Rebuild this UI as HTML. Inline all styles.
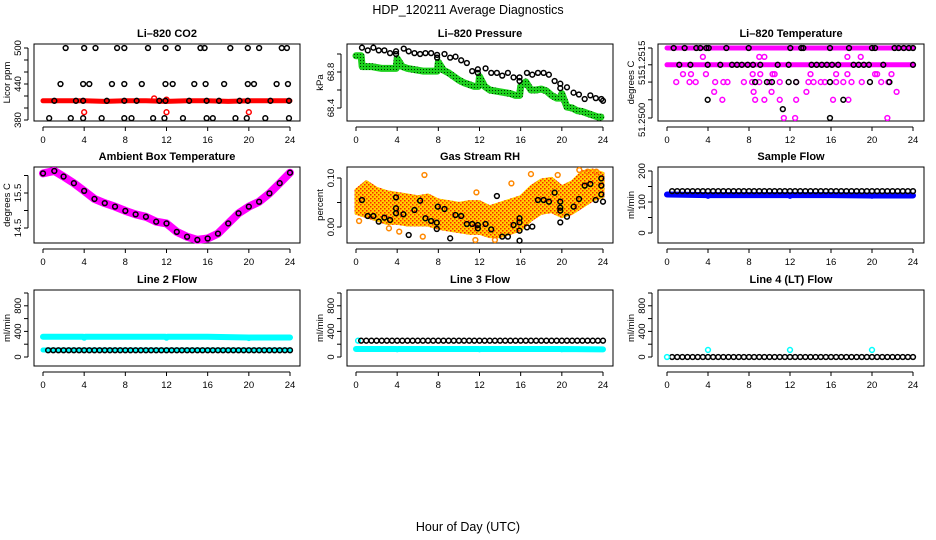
<!DOCTYPE html>
<html><head><meta charset="utf-8">
<style>
body{margin:0;background:#fff;}
svg{display:block;font-family:"Liberation Sans",sans-serif;}
</style></head>
<body>
<svg id="chart" width="936" height="540" viewBox="0 0 936 540" xmlns="http://www.w3.org/2000/svg">
<defs>
<pattern id="rhpat" width="4" height="4" patternUnits="userSpaceOnUse">
<rect width="4" height="4" fill="#ffd000"/><rect width="1.5" height="1.5" fill="#ff2200"/><rect x="2" y="2" width="1.5" height="1.5" fill="#ff2200"/>
</pattern>
<pattern id="grpat" width="3" height="3" patternUnits="userSpaceOnUse">
<rect width="3" height="3" fill="#1ed01e"/><rect width="1" height="1" fill="#003300"/>
</pattern>
</defs>
<text x="468" y="14" text-anchor="middle" font-size="12.5">HDP_120211  Average Diagnostics</text>
<text x="468" y="531" text-anchor="middle" font-size="12.5">Hour of Day (UTC)</text>
</svg>
<script>
// ---------- data ----------
var xTicks=[0,4,8,12,16,20,24];
// CO2
var co2BandT=[0,2,4,6,8,10,12,14,16,18,20,22,24];
var co2BandV=[412,412,412,411,412,412,411,412,412,411,412,412,412];
var co2RedOutT=[4,12,20,10.8,12];
var co2RedOutV=[393,393,393,416,414];
var co2BlkT=[2.2,4.0,5.1,7.2,7.9,10.2,11.9,13.1,15.3,15.7,18.2,19.9,21.0,23.2,23.7, 1.7,3.9,4.5,6.7,7.9,9.6,11.9,12.6,14.7,15.8,17.6,19.9,20.5,22.7,23.8, 1.1,3.2,3.9,6.2,7.9,9.1,11.3,11.9,14.2,15.9,17.1,19.1,19.9,22.1,23.9, 0.6,2.7,3.9,5.7,7.9,8.6,10.7,11.8,13.6,15.9,16.5,18.7,19.8,21.6,23.9];
var co2BlkV=[500,500,500,500,500,500,500,500,500,500,500,500,500,500,500, 440,440,440,440,440,440,440,440,440,440,440,440,440,440,440, 412,412,412,412,412,412,412,412,412,412,412,412,412,412,412, 383,383,383,383,383,383,383,383,383,383,383,383,383,383,383];
// Pressure
var prGrT=[0,0.5,0.6,1,1.5,2,2.5,3,3.5,3.9,4,4.5,5,5.5,6,6.5,7,7.5,7.9,8,8.5,9,9.5,10,10.5,11,11.5,11.9,12,12.5,13,13.5,14,14.5,15,15.5,15.9,16,16.5,17,17.5,18,18.5,19,19.5,19.9,20,20.5,21,21.5,22,22.5,23,23.5,23.8];
var prGrV=[68.98,68.98,68.86,68.86,68.86,68.85,68.84,68.84,68.84,68.84,68.95,68.86,68.84,68.83,68.82,68.81,68.81,68.81,68.81,68.91,68.82,68.79,68.75,68.71,68.68,68.66,68.64,68.64,68.75,68.64,68.60,68.59,68.58,68.57,68.56,68.54,68.54,68.64,68.69,68.60,68.60,68.61,68.59,68.54,68.51,68.51,68.56,68.41,68.40,68.37,68.36,68.34,68.32,68.30,68.30];
var prBkT=[0.58,1.14,1.69,2.21,2.76,3.31,3.89,4.64,5.12,5.68,6.23,6.75,7.3,7.88,8.6,9.15,9.67,10.22,10.77,11.29,11.84,12.59,13.14,13.69,14.21,14.76,15.31,15.89,16.61,17.13,17.68,18.23,18.74,19.3,19.85,20.5,21.14,21.66,22.22,22.77,23.3,23.84,24.0,3.89,7.88,11.84,15.89,19.85];
var prBkV=[69.07,69.04,69.07,69.04,69.04,69.01,69.03,69.06,69.03,69.01,69.0,69.01,69.01,68.99,69.0,68.96,68.97,68.93,68.9,68.81,68.83,68.84,68.79,68.79,68.76,68.79,68.74,68.74,68.79,68.77,68.79,68.79,68.77,68.7,68.67,68.63,68.57,68.55,68.5,68.54,68.51,68.5,68.48,69.0,68.96,68.79,68.7,68.62];
// Li-820 temperature
var ltBandT=[0,24];
var ltBandHi=[51.2515,51.2515];
var ltBandLo=[51.25114,51.25114];
var ltMagT=[3.5,9.0,9.5,17.6,18.9, 1.56,2.34,3.8,8.36,9.1,10.3,10.5,14,16.5,17.6,20.3,20.5,21.9, 0.9,2.2,2.8,4.7,5.5,5.9,7.5,8.3,9.0,10.0,11.0,12.6,13.8,14.3,15.0,15.4,16.5,17.2,18.0,19.0,20.9,21.6, 4.6,8.45,10.2,13.6,22.4, 5.4,8.6,9.5,11.0,12.6,16.2,17.7, 11.4,12.5,21.5];
var ltMagV=[51.25131,51.25131,51.25131,51.25131,51.25131, 51.25094,51.25094,51.25094,51.25094,51.25094,51.25094,51.25094,51.25094,51.25094,51.25094,51.25094,51.25094,51.25094, 51.25077,51.25077,51.25077,51.25077,51.25077,51.25077,51.25077,51.25077,51.25077,51.25077,51.25077,51.25077,51.25077,51.25077,51.25077,51.25077,51.25077,51.25077,51.25077,51.25077,51.25077,51.25077, 51.25056,51.25056,51.25056,51.25056,51.25056, 51.25039,51.25039,51.25039,51.25039,51.25039,51.25039,51.25039, 51.2500,51.2500,51.2500];
var ltBkT=[0.65,1.72,2.86,3.25,3.84,4.07,5.79,7.97,12.03,13.1,13.3,15.9,17.76,20,20.3,22.2,22.6,23.1,23.6,24, 1.2,2.28,3.97,5.2,6.34,6.83,7.3,7.87,8.39,9.1,10.8,11.87,14.1,14.6,15.1,15.6,16.1,16.7,18.2,18.7,19.2,19.7,21.1,24, 8.6,9.75,10.24,11.87,12.6,15.9,19.8,21.7, 3.97,17.2, 11.3, 15.9];
var ltBkV=[51.2515,51.2515,51.2515,51.2515,51.2515,51.2515,51.2515,51.2515,51.2515,51.2515,51.2515,51.2515,51.2515,51.2515,51.2515,51.2515,51.2515,51.2515,51.2515,51.2515, 51.25114,51.25114,51.25114,51.25114,51.25114,51.25114,51.25114,51.25114,51.25114,51.25114,51.25114,51.25114,51.25114,51.25114,51.25114,51.25114,51.25114,51.25114,51.25114,51.25114,51.25114,51.25114,51.25114,51.25114, 51.25077,51.25077,51.25077,51.25077,51.25077,51.25077,51.25077,51.25077, 51.25039,51.25039, 51.25019, 51.2500];
// Ambient
var ambT=[0,1.1,2,3,4,5,6,7,8,9,10,11,12,13,14,15,16,17,18,19,20,21,22,23,24];
var ambV=[16.06,16.13,15.97,15.78,15.56,15.33,15.21,15.11,14.99,14.89,14.82,14.68,14.63,14.39,14.25,14.16,14.20,14.34,14.63,14.92,15.11,15.25,15.49,15.78,16.08];
// RH
var rhEnvT=[0,1,2,3,4,5,6,7,8,9,10,11,12,13,14,15,16,17,18,19,20,21,22,23,24];
var rhUpper=[0.0755,0.0925,0.079,0.072,0.0687,0.0653,0.0619,0.0653,0.0551,0.0517,0.0483,0.0517,0.0517,0.0415,0.0483,0.0551,0.0619,0.0823,0.0959,0.0993,0.0823,0.0925,0.1129,0.1163,0.1095];
var rhLower=[0.028,0.021,0.0143,0.0075,0.0075,0.004,0.004,0.004,-0.0027,-0.0061,-0.0095,-0.0129,-0.0129,-0.0197,-0.0197,-0.0129,-0.0061,0.0143,0.028,0.0313,0.021,0.028,0.0415,0.0551,0.0619];
var rhOutT=[6.65,6.49,4.2,15.1,11.7,21.7,22.5,23.35,0.3,3.2,13.5,11.6,19.6,17];
var rhOutV=[0.1061,-0.0197,-0.0095,0.0891,0.0707,0.1163,0.1129,0.1129,0.0123,-0.0027,-0.0265,-0.0265,0.1061,0.108];
var rhBkT=[0.58,1.14,1.69,2.21,2.76,3.31,3.89,3.89,3.89,4.61,5.12,5.68,6.23,6.75,7.3,7.85,7.95,7.85,8.6,9.15,9.67,10.22,10.77,11.29,11.84,11.84,12.59,13.14,13.69,14.21,14.76,15.31,15.89,15.89,15.89,15.89,16.61,17.13,17.68,18.23,18.75,19.3,19.85,19.85,19.85,19.85,20.5,21.15,21.67,22.22,22.77,23.29,23.84,23.84,23.84,24];
var rhBkV=[0.0551,0.0224,0.0224,0.011,0.0191,0.0143,0.0605,0.0381,0.028,0.0259,-0.0163,0.0347,0.0537,0.0177,0.0123,0.0088,0.0415,-0.0041,0.0367,-0.0231,0.0245,0.0224,0.0061,0.0061,0.004,-0.0027,0.0061,-0.0048,0.0633,-0.0197,-0.0197,0.004,0.0177,0.0095,-0.0075,-0.0279,-0.0007,0.0007,0.0551,0.0551,0.0517,0.07,0.0517,0.0394,0.0333,0.0095,0.021,0.0415,0.0571,0.0844,0.0878,0.0551,0.0993,0.0844,0.0666,0.0517];
// Flows
var flowT=[0.5,1,1.5,2,2.5,3,3.5,4,4.5,5,5.5,6,6.5,7,7.5,8,8.5,9,9.5,10,10.5,11,11.5,12,12.5,13,13.5,14,14.5,15,15.5,16,16.5,17,17.5,18,18.5,19,19.5,20,20.5,21,21.5,22,22.5,23,23.5,24];
var bandT=[0,3.9,4,4.1,8,11.9,12,12.1,16,19.9,20,20.1,24];
var sampleBlue=[124,122,120,122,122,122,120,122,122,121,120,121,121];
var sampleBlack=135;
var line2Top=[317,317,300,317,317,317,300,317,317,305,295,305,305];
var line2Low=[110,110,110,110,110,110,110,110,110,110,110,110,110];
var line2Black=105;
var line3Low=[125,125,120,125,125,125,120,125,125,125,120,125,120];
var line3Black=255;
var line4Black=0;
var line4CyanT=[0,4,12,20];
var line4CyanV=[0,110,110,110];

// ---------- drawing ----------
var svg=document.getElementById('chart');
var NS='http://www.w3.org/2000/svg';
function mk(tag,attrs,parent){var e=document.createElementNS(NS,tag);for(var k in attrs)e.setAttribute(k,attrs[k]);(parent||svg).appendChild(e);return e;}
var cols=[{l:34,r:300,x0:43,x24:290},{l:347,r:613,x0:356,x24:603},{l:658,r:924,x0:667,x24:913}];
var rows=[{t:44,b:121},{t:167,b:243},{t:290,b:366}];
function panel(name,title,ci,ri,ylab,v1,y1,v2,y2,ticks,labels){
  var c=cols[ci],r=rows[ri];
  var g=mk('g',{});
  
  
  var p={g:g,sx:function(h){return c.x0+h*(c.x24-c.x0)/24;},sy:function(v){return y1+(v-v1)*(y2-y1)/(v2-v1);}};
  var t=mk('text',{x:(c.l+c.r)/2,y:r.t-7,'text-anchor':'middle','font-size':11,'font-weight':'bold'},g);t.textContent=title;
  
  
  var box=mk('rect',{x:c.l,y:r.t,width:c.r-c.l,height:r.b-r.t,fill:'none',stroke:'#000','stroke-width':1},g);
  
  
  var xa=mk('g',{},g);
  
  
  mk('line',{x1:p.sx(0),x2:p.sx(24),y1:r.b+6,y2:r.b+6,stroke:'#000'},xa);
  xTicks.forEach(function(h){var x=p.sx(h);mk('line',{x1:x,x2:x,y1:r.b+6,y2:r.b+10,stroke:'#000'},xa);
    var tt=mk('text',{x:x,y:r.b+22,'text-anchor':'middle','font-size':9.5},xa);tt.textContent=h;});
  var ya=mk('g',{},g);
  
  
  var ys=ticks.map(p.sy);
  mk('line',{x1:c.l-6,x2:c.l-6,y1:Math.min.apply(null,ys),y2:Math.max.apply(null,ys),stroke:'#000'},ya);
  ticks.forEach(function(v){var y=p.sy(v);mk('line',{x1:c.l-10,x2:c.l-6,y1:y,y2:y,stroke:'#000'},ya);});
  labels.forEach(function(L){var y=p.sy(L[0]);var tt=mk('text',{x:0,y:0,'text-anchor':'middle','font-size':9.5,transform:'translate('+(c.l-13)+','+y+') rotate(-90)'},ya);tt.textContent=L[1];});
  var yt=mk('text',{x:0,y:0,'text-anchor':'middle','font-size':9.5,transform:'translate('+(c.l-24)+','+((r.t+r.b)/2)+') rotate(-90)'},g);yt.textContent=ylab;
  
  
  return p;
}
function pts(p,T,V,color,name,rr,sw){
  var g=mk('g',{},p.g);
  
  
  for(var i=0;i<T.length;i++){var v=(typeof V==='number')?V:V[i];
    mk('circle',{cx:p.sx(T[i]),cy:p.sy(v),r:rr||2.4,fill:'none',stroke:color,'stroke-width':sw||1.5},g);}
}
function band(p,T,V,color,w,name){
  var d=T.map(function(t,i){return (i?'L':'M')+p.sx(t)+','+p.sy(V[i]);}).join(' ');
  var e=mk('path',{d:d,fill:'none',stroke:color,'stroke-width':w,'stroke-linejoin':'round','stroke-linecap':'round'},p.g);
  
  
}

// CO2
var p=panel('co2','Li\u2013820 CO2',0,0,'Licor ppm',500,48,380,120,[380,400,420,440,460,480,500],[[380,'380'],[440,'440'],[500,'500']]);
band(p,co2BandT,co2BandV,'#ff0000',5,'co2-red-band');
pts(p,co2RedOutT,co2RedOutV,'#ff0000','co2-red-outliers');
pts(p,co2BlkT,co2BlkV,'#000','co2-black-points');
// Pressure
p=panel('pressure','Li\u2013820 Pressure',1,0,'kPa',68.8,72,68.4,108,[68.4,68.6,68.8,69.0],[[68.4,'68.4'],[68.8,'68.8']]);
band(p,prGrT,prGrV,'url(#grpat)',7,'pressure-green-band');
pts(p,prBkT,prBkV,'#000','pressure-black-points');
// Li temp
p=panel('li-temp','Li\u2013820 Temperature',2,0,'degrees C',51.2515,48,51.2500,118,[51.2500,51.25039,51.25077,51.25114,51.2515],[[51.24996,'51.2500'],[51.25082,'51'],[51.25129,'51.2515']]);
band(p,ltBandT,ltBandHi,'#ff00ff',5,'li-temp-band-high');
band(p,ltBandT,ltBandLo,'#ff00ff',5,'li-temp-band-low');
pts(p,ltMagT,ltMagV,'#ff00ff','li-temp-magenta-points');
pts(p,ltBkT,ltBkV,'#000','li-temp-black-points');
// Ambient
p=panel('ambient','Ambient Box Temperature',0,1,'degrees C',15.5,193,14.5,228,[14.5,15,15.5,16],[[14.5,'14.5'],[15.5,'15.5']]);
band(p,ambT,ambV,'#ff00ff',8,'ambient-magenta-band');
pts(p,ambT,ambV,'#000','ambient-black-points');
// RH
p=panel('rh','Gas Stream RH',1,1,'percent',0.10,178,0.0,227,[0,0.05,0.10],[[0,'0.00'],[0.10,'0.10']]);
(function(){var d='';rhEnvT.forEach(function(t,i){d+=(i?'L':'M')+p.sx(t)+','+p.sy(rhUpper[i]);});
 for(var i=rhEnvT.length-1;i>=0;i--)d+='L'+p.sx(rhEnvT[i])+','+p.sy(rhLower[i]);d+='Z';
 var e=mk('path',{d:d,fill:'url(#rhpat)',stroke:'url(#rhpat)','stroke-width':3,'stroke-linejoin':'round'},p.g);
 
 })();
pts(p,rhOutT,rhOutV,'#ff8800','rh-orange-outliers');
pts(p,rhBkT,rhBkV,'#000','rh-black-points');
// Sample flow
p=panel('sample-flow','Sample Flow',2,1,'ml/min',200,171,0,233,[0,50,100,150,200],[[0,'0'],[100,'100'],[200,'200']]);
band(p,bandT,sampleBlue,'#0000ff',6,'sample-flow-blue-band');
pts(p,flowT,sampleBlack,'#000','sample-flow-black-points');
// Line 2
var fticks=[0,200,400,600,800,1000],flabs=[[0,'0'],[400,'400'],[800,'800']];
p=panel('line2-flow','Line 2 Flow',0,2,'ml/min',0,357,400,331.4,fticks,flabs);
band(p,bandT,line2Top,'#00ffff',6,'line2-cyan-top-band');
band(p,bandT,line2Low,'#00ffff',5,'line2-cyan-low-band');
pts(p,flowT,line2Black,'#000','line2-black-points');
// Line 3
p=panel('line3-flow','Line 3 Flow',1,2,'ml/min',0,357,400,331.4,fticks,flabs);
band(p,bandT,line3Low,'#00ffff',6,'line3-cyan-band');
pts(p,[0.2],[255],'#00ffff','line3-cyan-start');
pts(p,flowT,line3Black,'#000','line3-black-points');
// Line 4
p=panel('line4-flow','Line 4 (LT) Flow',2,2,'ml/min',0,357,400,331.4,fticks,flabs);
pts(p,flowT,line4Black,'#000','line4-black-points');
pts(p,line4CyanT,line4CyanV,'#00ffff','line4-cyan-points');
</script>
</body></html>
